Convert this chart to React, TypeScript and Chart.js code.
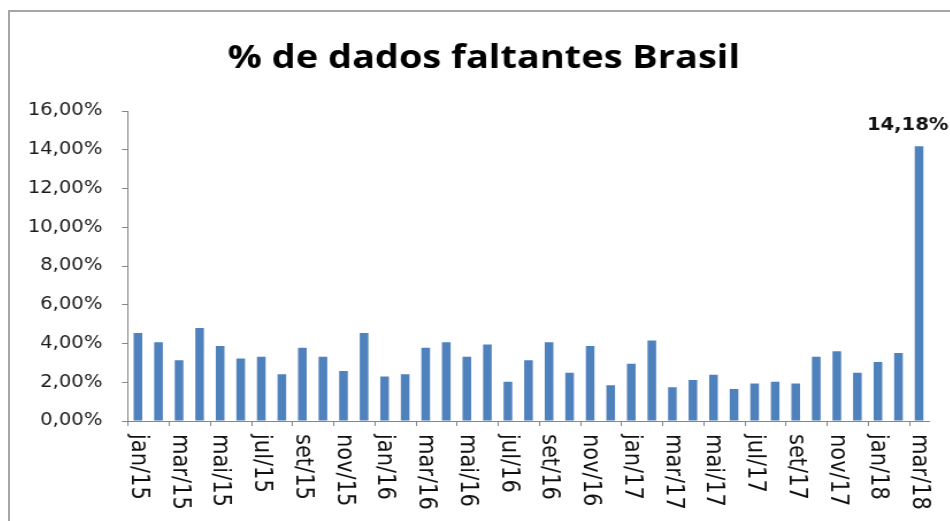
import React, { useEffect, useRef } from 'react';
import { Chart, registerables } from 'chart.js';

Chart.register(...registerables);

const chartTitle = '% de dados faltantes Brasil';

const categories = [
  'jan/15', 'fev/15', 'mar/15', 'abr/15', 'mai/15', 'jun/15', 'jul/15', 'ago/15', 'set/15', 'out/15', 'nov/15', 'dez/15',
  'jan/16', 'fev/16', 'mar/16', 'abr/16', 'mai/16', 'jun/16', 'jul/16', 'ago/16', 'set/16', 'out/16', 'nov/16', 'dez/16',
  'jan/17', 'fev/17', 'mar/17', 'abr/17', 'mai/17', 'jun/17', 'jul/17', 'ago/17', 'set/17', 'out/17', 'nov/17', 'dez/17',
  'jan/18', 'fev/18', 'mar/18',
];

const missingPct = [
  4.54, 4.07, 3.14, 4.80, 3.87, 3.23, 3.32, 2.41, 3.78, 3.32, 2.58, 4.54,
  2.30, 2.41, 3.78, 4.07, 3.32, 3.95, 2.03, 3.14, 4.07, 2.49, 3.87, 1.84,
  2.96, 4.16, 1.74, 2.12, 2.39, 1.65, 1.93, 2.03, 1.93, 3.32, 3.60, 2.49,
  3.04, 3.51, 14.18,
];

const yTickValues = [0, 2, 4, 6, 8, 10, 12, 14, 16];
const yTickLabels = ['0,00%', '2,00%', '4,00%', '6,00%', '8,00%', '10,00%', '12,00%', '14,00%', '16,00%'];

const labelledIndex = 38;
const labelledText = '14,18%';

const STRETCH = 1.15;
const CW = 818;
const CH = 509;

const overlayPlugin = {
  id: 'overlay',
  afterDraw(chart: any) {
    const { ctx, chartArea, scales } = chart;
    const xs = scales.x;
    ctx.save();

    // title
    ctx.fillStyle = '#000';
    ctx.font = 'bold 33px "Open Sans"';
    ctx.textAlign = 'center';
    ctx.textBaseline = 'alphabetic';
    ctx.fillText(chartTitle, 412, 56);

    // x tick marks every two categories (at category boundaries)
    ctx.strokeStyle = '#868686';
    ctx.lineWidth = 1;
    for (let i = 0; i < categories.length; i += 2) {
      const px = Math.round(xs.getPixelForValue(i - 0.5)) + 0.5;
      ctx.beginPath();
      ctx.moveTo(px, chartArea.bottom);
      ctx.lineTo(px, chartArea.bottom + 5);
      ctx.stroke();
    }

    // rotated x labels (reading top to bottom)
    ctx.font = '21px "DejaVu Sans"';
    ctx.fillStyle = '#111';
    ctx.textAlign = 'left';
    ctx.textBaseline = 'middle';
    for (let i = 0; i < categories.length; i += 2) {
      const px = xs.getPixelForValue(i);
      ctx.save();
      ctx.translate(px, chartArea.bottom + 13);
      ctx.rotate(Math.PI / 2);
      ctx.fillText(categories[i], 0, 0);
      ctx.restore();
    }

    // data label on last bar
    const meta = chart.getDatasetMeta(0);
    const bar = meta.data[labelledIndex];
    if (bar) {
      ctx.font = 'bold 17px "DejaVu Sans"';
      ctx.fillStyle = '#111';
      ctx.textAlign = 'center';
      ctx.textBaseline = 'alphabetic';
      const tw = ctx.measureText(labelledText).width;
      const cx = Math.min(bar.x, chart.width - 2 - tw / 2);
      ctx.fillText(labelledText, cx, bar.y - 16);
    }
    ctx.restore();
  },
};

export default function App() {
  const ref = useRef<HTMLCanvasElement | null>(null);

  useEffect(() => {
    if (!ref.current) return;
    const chart = new Chart(ref.current, {
      type: 'bar',
      data: {
        labels: categories,
        datasets: [
          {
            data: missingPct,
            backgroundColor: '#4f81bd',
            borderWidth: 0,
            barPercentage: 0.42,
            categoryPercentage: 1,
          },
        ],
      },
      options: {
        responsive: false,
        devicePixelRatio: 1,
        animation: false,
        layout: { padding: { top: 99, right: 18.6, bottom: 0, left: 0 } },
        plugins: {
          legend: { display: false },
          tooltip: { enabled: false },
          title: { display: false },
        },
        scales: {
          x: {
            type: 'category',
            offset: true,
            grid: { display: true, drawOnChartArea: false, drawTicks: false, color: '#868686' },
            border: { display: true, color: '#868686', width: 1 },
            ticks: { display: false },
            afterFit: (s: any) => {
              s.height = 100;
            },
          },
          y: {
            min: 0,
            max: 16,
            afterBuildTicks: (s: any) => {
              s.ticks = yTickValues.map((v) => ({ value: v }));
            },
            ticks: {
              callback: (_v: any, i: number) => yTickLabels[i],
              font: { family: 'DejaVu Sans', size: 17 },
              color: '#1a1a1a',
              padding: 17,
            },
            grid: { drawOnChartArea: false, drawTicks: true, tickLength: 5, color: '#868686' },
            border: { display: true, color: '#868686', width: 1 },
            afterFit: (s: any) => {
              s.width = 102.3;
            },
          },
        },
      },
      plugins: [overlayPlugin],
    });
    return () => chart.destroy();
  }, []);

  return (
    <div
      style={{
        position: 'fixed',
        left: 8,
        top: 10,
        width: 942,
        height: 511,
        borderLeft: '2px solid #a6a6a6',
        borderTop: '2px solid #a6a6a6',
        boxSizing: 'border-box',
        overflow: 'hidden',
        background: '#fff',
      }}
    >
      <div style={{ width: CW, height: CH, transform: `scaleX(${STRETCH})`, transformOrigin: '0 0' }}>
        <canvas ref={ref} width={CW} height={CH} style={{ display: 'block', width: CW, height: CH }} />
      </div>
    </div>
  );
}
